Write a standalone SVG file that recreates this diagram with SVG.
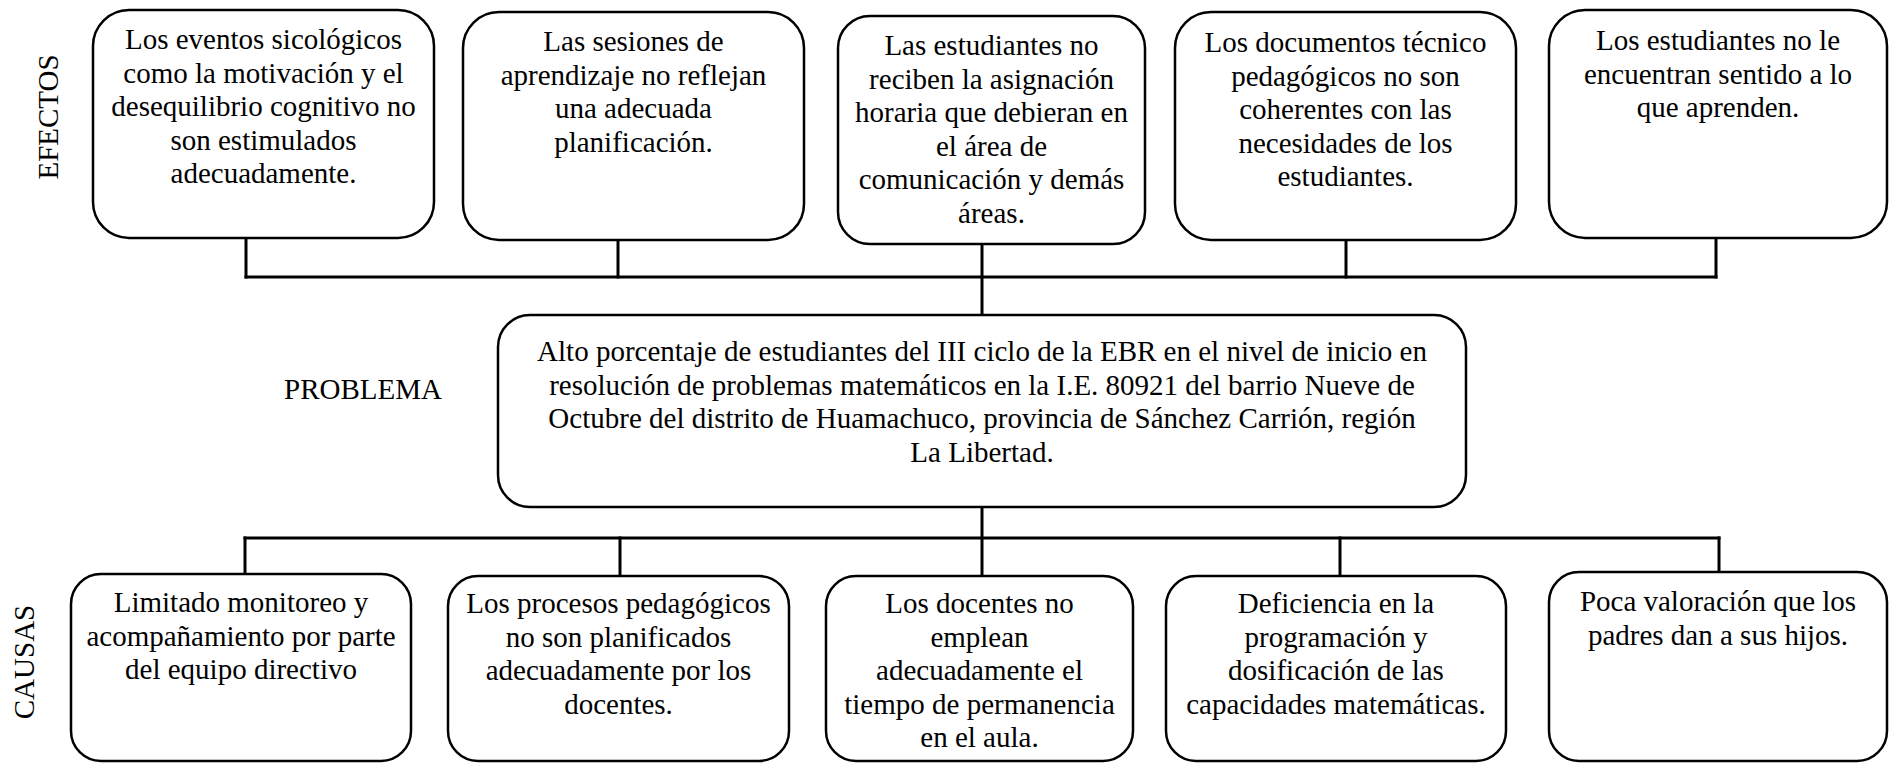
<svg xmlns="http://www.w3.org/2000/svg" width="1890" height="763" viewBox="0 0 1890 763">
<style>
  .box { fill: #ffffff; stroke: #000000; stroke-width: 2.5; }
  text { font-family: 'Liberation Serif', 'DejaVu Serif', serif; font-size: 29px; fill: #000000; text-anchor: middle; }
  .conn line { stroke: #000000; stroke-width: 3; stroke-linecap: square; }
</style>
<rect width="1890" height="763" fill="#ffffff"/>

<g id="connectors" class="conn">
  <line x1="246" y1="238" x2="246" y2="277"/>
  <line x1="618" y1="240" x2="618" y2="277"/>
  <line x1="982" y1="244" x2="982" y2="315"/>
  <line x1="1346" y1="240" x2="1346" y2="277"/>
  <line x1="1716" y1="238" x2="1716" y2="277"/>
  <line x1="246" y1="277" x2="1716" y2="277"/>
  <line x1="982" y1="507" x2="982" y2="576"/>
  <line x1="245" y1="538" x2="1719" y2="538"/>
  <line x1="245" y1="538" x2="245" y2="574"/>
  <line x1="620" y1="538" x2="620" y2="576"/>
  <line x1="1340" y1="538" x2="1340" y2="576"/>
  <line x1="1719" y1="538" x2="1719" y2="572"/>
</g>

<g id="label-efectos"><text transform="translate(58,117) rotate(-90)">EFECTOS</text></g>
<g id="label-problema"><text x="363" y="399">PROBLEMA</text></g>
<g id="label-causas"><text transform="translate(34,662) rotate(-90)">CAUSAS</text></g>

<g id="efecto1">
  <rect class="box" x="93" y="10" width="341" height="228" rx="36" ry="36"/>
  <text x="263.5" y="49">Los eventos sicológicos</text>
  <text x="263.5" y="82.5">como la motivación y el</text>
  <text x="263.5" y="116">desequilibrio cognitivo no</text>
  <text x="263.5" y="149.5">son estimulados</text>
  <text x="263.5" y="183">adecuadamente.</text>
</g>
<g id="efecto2">
  <rect class="box" x="463" y="12" width="341" height="228" rx="36" ry="36"/>
  <text x="633.5" y="51">Las sesiones de</text>
  <text x="633.5" y="84.5">aprendizaje no reflejan</text>
  <text x="633.5" y="118">una adecuada</text>
  <text x="633.5" y="151.5">planificación.</text>
</g>
<g id="efecto3">
  <rect class="box" x="838" y="16" width="307" height="228" rx="32" ry="32"/>
  <text x="991.5" y="55">Las estudiantes no</text>
  <text x="991.5" y="88.5">reciben la asignación</text>
  <text x="991.5" y="122">horaria que debieran en</text>
  <text x="991.5" y="155.5">el área de</text>
  <text x="991.5" y="189">comunicación y demás</text>
  <text x="991.5" y="222.5">áreas.</text>
</g>
<g id="efecto4">
  <rect class="box" x="1175" y="12" width="341" height="228" rx="36" ry="36"/>
  <text x="1345.5" y="52">Los documentos técnico</text>
  <text x="1345.5" y="85.5">pedagógicos no son</text>
  <text x="1345.5" y="119">coherentes con las</text>
  <text x="1345.5" y="152.5">necesidades de los</text>
  <text x="1345.5" y="186">estudiantes.</text>
</g>
<g id="efecto5">
  <rect class="box" x="1549" y="10" width="338" height="228" rx="36" ry="36"/>
  <text x="1718" y="50">Los estudiantes no le</text>
  <text x="1718" y="83.5">encuentran sentido a lo</text>
  <text x="1718" y="117">que aprenden.</text>
</g>

<g id="problema">
  <rect class="box" x="498" y="315" width="968" height="192" rx="32" ry="32"/>
  <text x="982" y="361">Alto porcentaje de estudiantes del III ciclo de la EBR en el nivel de inicio en</text>
  <text x="982" y="394.5">resolución de problemas matemáticos en la I.E. 80921 del barrio Nueve de</text>
  <text x="982" y="428">Octubre del distrito de Huamachuco, provincia de Sánchez Carrión, región</text>
  <text x="982" y="461.5">La Libertad.</text>
</g>

<g id="causa1">
  <rect class="box" x="71" y="574" width="340" height="187" rx="30" ry="30"/>
  <text x="241" y="612">Limitado monitoreo y</text>
  <text x="241" y="645.5">acompañamiento por parte</text>
  <text x="241" y="679">del equipo directivo</text>
</g>
<g id="causa2">
  <rect class="box" x="448" y="576" width="341" height="185" rx="30" ry="30"/>
  <text x="618.5" y="613">Los procesos pedagógicos</text>
  <text x="618.5" y="646.5">no son planificados</text>
  <text x="618.5" y="680">adecuadamente por los</text>
  <text x="618.5" y="713.5">docentes.</text>
</g>
<g id="causa3">
  <rect class="box" x="826" y="576" width="307" height="185" rx="30" ry="30"/>
  <text x="979.5" y="613">Los docentes no</text>
  <text x="979.5" y="646.5">emplean</text>
  <text x="979.5" y="680">adecuadamente el</text>
  <text x="979.5" y="713.5">tiempo de permanencia</text>
  <text x="979.5" y="747">en el aula.</text>
</g>
<g id="causa4">
  <rect class="box" x="1166" y="576" width="340" height="185" rx="30" ry="30"/>
  <text x="1336" y="613">Deficiencia en la</text>
  <text x="1336" y="646.5">programación y</text>
  <text x="1336" y="680">dosificación de las</text>
  <text x="1336" y="713.5">capacidades matemáticas.</text>
</g>
<g id="causa5">
  <rect class="box" x="1549" y="572" width="338" height="189" rx="30" ry="30"/>
  <text x="1718" y="611">Poca valoración que los</text>
  <text x="1718" y="644.5">padres dan a sus hijos.</text>
</g>
</svg>
